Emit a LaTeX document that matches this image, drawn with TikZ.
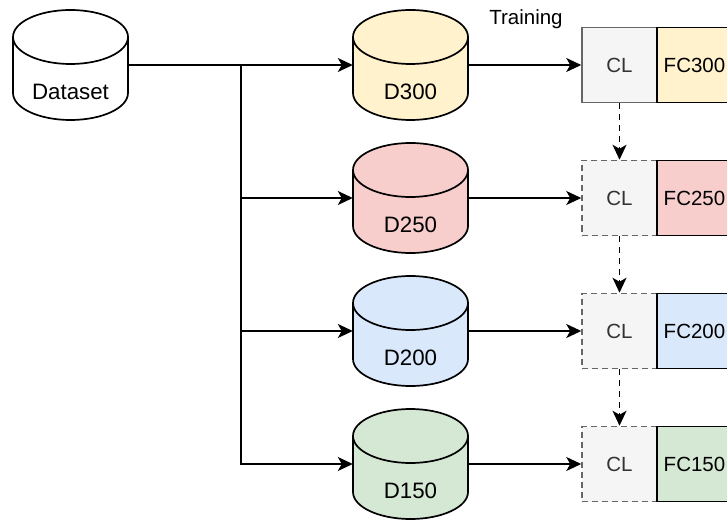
\documentclass[tikz,border=0pt]{standalone}
\usepackage{fontspec}
\setmainfont{Liberation Sans}
\usetikzlibrary{arrows.meta}

% cylinder: name, x, y, fill, label
\newcommand\drum[5]{%
  \draw[drumline, fill=#4] (#2-57.5,#3+28) -- (#2-57.5,#3-28)
    arc[start angle=180, end angle=360, x radius=57.5, y radius=27]
    -- (#2+57.5,#3+28)
    arc[start angle=0, end angle=180, x radius=57.5, y radius=27] -- cycle;
  \draw[drumline] (#2-57.5,#3+28)
    arc[start angle=180, end angle=360, x radius=57.5, y radius=27];
  \node[drumbox] (#1) at (#2,#3) {#5};
}

\definecolor{cyellow}{HTML}{FFF2CC}
\definecolor{cred}{HTML}{F8CECC}
\definecolor{cblue}{HTML}{DAE8FC}
\definecolor{cgreen}{HTML}{D5E8D4}
\definecolor{clfill}{HTML}{F5F5F5}
\definecolor{clline}{HTML}{666666}
\definecolor{cltext}{HTML}{333333}

\tikzset{
  drumline/.style={line width=1.7pt, draw=black},
  % tall text box pushes the label below the lid
  drumbox/.style={rectangle, draw=none, inner sep=0pt,
    minimum width=115pt, minimum height=110pt,
    text height=74pt, text depth=5pt,
    font=\fontsize{22.3}{26}\selectfont},
  clbox/.style={rectangle, fill=clfill, draw=clline, line width=1.5pt,
    minimum width=75pt, minimum height=75pt, inner sep=0pt,
    text=cltext, font=\fontsize{20.5}{24}\selectfont},
  cldash/.style={clbox, dash pattern=on 6pt off 4pt},
  fcbox/.style={rectangle, draw=black, line width=1.7pt,
    minimum width=75pt, minimum height=75pt, inner sep=0pt,
    font=\fontsize{20.5}{24}\selectfont},
  flow/.style={line width=1.7pt, -{Stealth[length=15pt, width=14pt, inset=4pt]}},
  handover/.style={flow, dash pattern=on 6pt off 5pt},
}

\begin{document}
\begin{tikzpicture}[x=1pt, y=1pt]
\useasboundingbox (0,0) rectangle (727,520);

% data sources
\drum{dataset}{70.5}{455}{white}{Dataset}
\drum{d300}{410.5}{455}{cyellow}{D300}
\drum{d250}{410.5}{322}{cred}{D250}
\drum{d200}{410.5}{189}{cblue}{D200}
\drum{d150}{410.5}{56}{cgreen}{D150}

% models: shared CL block + head
\node[clbox]  (cl300) at (619.5,455) {CL};
\node[cldash] (cl250) at (619.5,322) {CL};
\node[cldash] (cl200) at (619.5,189) {CL};
\node[cldash] (cl150) at (619.5,56)  {CL};

\node[fcbox, fill=cyellow] (fc300) at (694.5,455) {FC300};
\node[fcbox, fill=cred]    (fc250) at (694.5,322) {FC250};
\node[fcbox, fill=cblue]   (fc200) at (694.5,189) {FC200};
\node[fcbox, fill=cgreen]  (fc150) at (694.5,56)  {FC150};

\node[font=\fontsize{20.5}{24}\selectfont] (train) at (526,501) {Training};

% splitting the dataset
\coordinate (split) at (241,455);
\draw[flow] (dataset.east) -- (d300.west);
\draw[flow] (dataset.east) -- (split) |- (d250.west);
\draw[flow] (dataset.east) -- (split) |- (d200.west);
\draw[flow] (dataset.east) -- (split) |- (d150.west);

% training
\draw[flow] (d300.east) -- (cl300.west);
\draw[flow] (d250.east) -- (cl250.west);
\draw[flow] (d200.east) -- (cl200.west);
\draw[flow] (d150.east) -- (cl150.west);

% transfer of the CL block
\draw[handover] (cl300.south) -- (cl250.north);
\draw[handover] (cl250.south) -- (cl200.north);
\draw[handover] (cl200.south) -- (cl150.north);
\end{tikzpicture}
\end{document}
